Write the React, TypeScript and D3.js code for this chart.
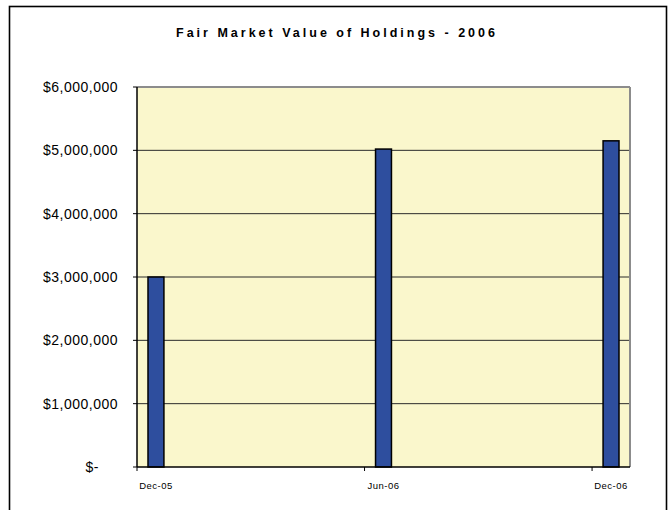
import * as d3 from "d3";

// month slots on the date axis (Excel-style, one slot per month)
const MONTHS = [
  "Dec-05", "Jan-06", "Feb-06", "Mar-06", "Apr-06", "May-06", "Jun-06",
  "Jul-06", "Aug-06", "Sep-06", "Oct-06", "Nov-06", "Dec-06",
];
const TICK_MONTHS = ["Dec-05", "Jun-06", "Dec-06"];

// holdings values
const PERIODS = ["Dec-05", "Jun-06", "Dec-06"];
const VALUES = [3000000, 5020000, 5150000];

const Y_TICKS = [0, 1000000, 2000000, 3000000, 4000000, 5000000, 6000000];

const W = 671;
const H = 510;
const plot = { left: 137, right: 630, top: 87, bottom: 467 };

const font = "Arial, 'Liberation Sans', Helvetica, sans-serif";

export default function App() {
  const x = d3
    .scaleBand<string>()
    .domain(MONTHS)
    .range([plot.left, plot.right])
    .paddingInner(0)
    .paddingOuter(0);
  const y = d3.scaleLinear().domain([0, 6000000]).range([plot.bottom, plot.top]);

  const barW = x.bandwidth() * 0.42;
  const fmt = (v: number) => (v === 0 ? "$-" : "$" + d3.format(",")(v));

  return (
    <svg
      width={W}
      height={H}
      style={{ position: "absolute", left: 0, top: 0, display: "block" }}
    >
      <rect x={0} y={0} width={W} height={H} fill="#fff" />
      {/* chart frame, runs off the bottom of the page */}
      <rect
        x={9.5}
        y={6.5}
        width={657}
        height={H + 20}
        fill="#fff"
        stroke="#000"
        strokeWidth={1.6}
      />

      <text
        x={337}
        y={37}
        textAnchor="middle"
        fontFamily={font}
        fontWeight="bold"
        fontSize={12.5}
        letterSpacing={3}
        fill="#000"
      >
        Fair Market Value of Holdings - 2006
      </text>

      {/* plot area */}
      <rect
        x={plot.left}
        y={plot.top}
        width={plot.right - plot.left}
        height={plot.bottom - plot.top}
        fill="#FAF7CC"
      />
      {Y_TICKS.filter((t) => t > 0 && t < 6000000).map((t) => (
        <line
          key={t}
          x1={plot.left}
          x2={plot.right}
          y1={y(t)}
          y2={y(t)}
          stroke="#2b2b2b"
          strokeWidth={1}
        />
      ))}
      <line x1={plot.left} x2={plot.right} y1={plot.top} y2={plot.top} stroke="#8c8c8c" strokeWidth={2} />
      <line x1={plot.right} x2={plot.right} y1={plot.top} y2={plot.bottom} stroke="#8c8c8c" strokeWidth={2} />

      {/* bars */}
      {PERIODS.map((p, i) => (
        <rect
          key={p}
          x={(x(p) ?? 0) + (x.bandwidth() - barW) / 2}
          y={y(VALUES[i])}
          width={barW}
          height={plot.bottom - y(VALUES[i])}
          fill="#2E4E9E"
          stroke="#000"
          strokeWidth={1.5}
        />
      ))}

      {/* y axis */}
      <line x1={plot.left} x2={plot.left} y1={plot.top} y2={plot.bottom} stroke="#000" strokeWidth={1.5} />
      {Y_TICKS.map((t) => (
        <g key={t}>
          <line x1={plot.left - 4} x2={plot.left} y1={y(t)} y2={y(t)} stroke="#000" strokeWidth={1} />
          <text
            x={t === 0 ? 99 : 118}
            y={y(t)}
            dy="0.36em"
            textAnchor="end"
            fontFamily={font}
            fontSize={14}
            letterSpacing={0.5}
            fill="#000"
          >
            {fmt(t)}
          </text>
        </g>
      ))}

      {/* x axis */}
      <line x1={plot.left} x2={plot.right} y1={plot.bottom} y2={plot.bottom} stroke="#000" strokeWidth={1.5} />
      {TICK_MONTHS.map((m) => (
        <g key={m}>
          <line
            x1={x(m) ?? 0}
            x2={x(m) ?? 0}
            y1={plot.bottom}
            y2={plot.bottom + 4}
            stroke="#000"
            strokeWidth={1}
          />
          <text
            x={(x(m) ?? 0) + x.bandwidth() / 2}
            y={489}
            textAnchor="middle"
            fontFamily={font}
            fontSize={9.5}
            letterSpacing={0.5}
            fill="#000"
          >
            {m}
          </text>
        </g>
      ))}
    </svg>
  );
}
